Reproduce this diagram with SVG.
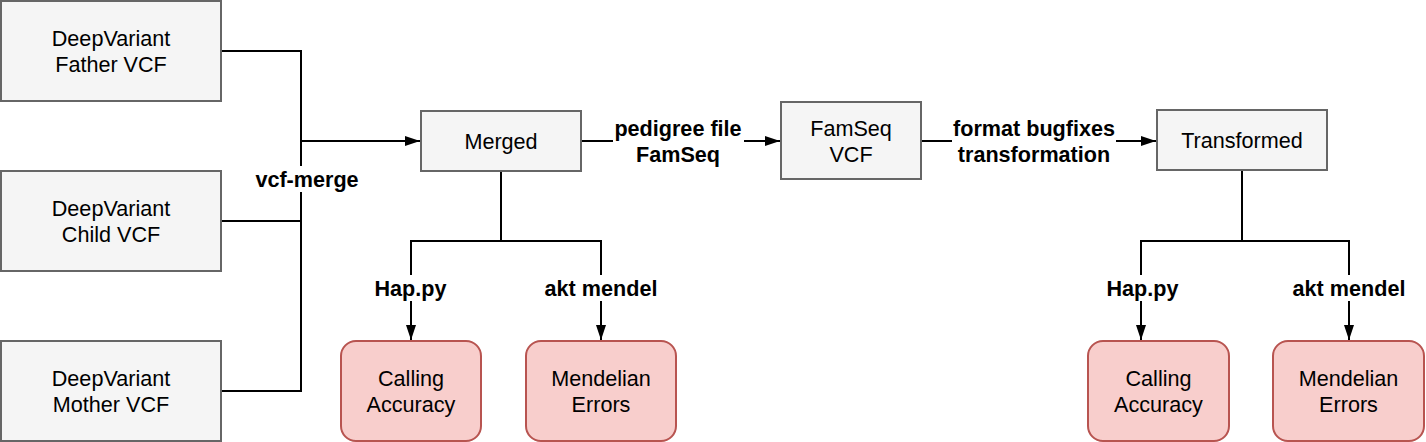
<svg xmlns="http://www.w3.org/2000/svg" width="1426" height="442" viewBox="0 0 1426 442">
<style>
.box{fill:#f5f5f5;stroke:#666666;stroke-width:2}
.res{fill:#f8cecc;stroke:#b85450;stroke-width:2}
.t{font-family:"Liberation Sans",Arial,sans-serif;font-size:21.6px;fill:#000;text-anchor:middle}
.lb{font-family:"Liberation Sans",Arial,sans-serif;font-size:21.6px;font-weight:bold;fill:#000;text-anchor:middle}
.e{fill:none;stroke:#000;stroke-width:2}
.bg{fill:#fff}
</style>
<defs>
<marker id="arr" markerUnits="userSpaceOnUse" markerWidth="16" markerHeight="12" refX="15" refY="6" orient="auto">
<path d="M0,1 L15,6 L0,11 z" fill="#000"/>
</marker>
</defs>
<g id="connectors">
<path class="e" d="M221 51 H301 V391 H221"/>
<path class="e" d="M221 221 H301"/>
<path class="e" d="M301 141 H420" marker-end="url(#arr)"/>
<path class="e" d="M581 141 H780" marker-end="url(#arr)"/>
<path class="e" d="M921 141 H1156" marker-end="url(#arr)"/>
<path class="e" d="M501 171 V241 H411 V340" marker-end="url(#arr)"/>
<path class="e" d="M501 241 H601 V340" marker-end="url(#arr)"/>
<path class="e" d="M1242 170 V241 H1141 V340" marker-end="url(#arr)"/>
<path class="e" d="M1242 241 H1349 V340" marker-end="url(#arr)"/>
<rect class="bg" x="254" y="166" width="106" height="26"/>
<text class="lb" x="307" y="186.5">vcf-merge</text>
<rect class="bg" x="613" y="116" width="131" height="52"/>
<text class="lb" x="678" y="135.5">pedigree file</text>
<text class="lb" x="678" y="161.5">FamSeq</text>
<rect class="bg" x="952" y="116" width="164" height="52"/>
<text class="lb" x="1034" y="135.5">format bugfixes</text>
<text class="lb" x="1034" y="161.5">transformation</text>
<rect class="bg" x="374" y="275" width="73" height="26"/>
<text class="lb" x="410.5" y="295.5">Hap.py</text>
<rect class="bg" x="543" y="275" width="116" height="26"/>
<text class="lb" x="601" y="295.5">akt mendel</text>
<rect class="bg" x="1106" y="275" width="73" height="26"/>
<text class="lb" x="1142.5" y="295.5">Hap.py</text>
<rect class="bg" x="1291" y="275" width="116" height="26"/>
<text class="lb" x="1349" y="295.5">akt mendel</text>
</g>
<g id="father">
<rect class="box" x="1" y="1" width="220" height="100"/>
<text class="t" x="111" y="45.5">DeepVariant</text>
<text class="t" x="111" y="71.5">Father VCF</text>
</g>
<g id="child">
<rect class="box" x="1" y="171" width="220" height="100"/>
<text class="t" x="111" y="215.5">DeepVariant</text>
<text class="t" x="111" y="241.5">Child VCF</text>
</g>
<g id="mother">
<rect class="box" x="1" y="341" width="220" height="100"/>
<text class="t" x="111" y="385.5">DeepVariant</text>
<text class="t" x="111" y="411.5">Mother VCF</text>
</g>
<g id="merged">
<rect class="box" x="421" y="111" width="160" height="60"/>
<text class="t" x="501" y="148.5">Merged</text>
</g>
<g id="famseq">
<rect class="box" x="781" y="102" width="140" height="77"/>
<text class="t" x="851" y="135.5">FamSeq</text>
<text class="t" x="851" y="161.5">VCF</text>
</g>
<g id="transformed">
<rect class="box" x="1157" y="110" width="170" height="60"/>
<text class="t" x="1242" y="147.5">Transformed</text>
</g>
<g id="calling1">
<rect class="res" x="341" y="341" width="140" height="100" rx="15" ry="15"/>
<text class="t" x="411" y="385.5">Calling</text>
<text class="t" x="411" y="411.5">Accuracy</text>
</g>
<g id="mendel1">
<rect class="res" x="526" y="341" width="150" height="100" rx="15" ry="15"/>
<text class="t" x="601" y="385.5">Mendelian</text>
<text class="t" x="601" y="411.5">Errors</text>
</g>
<g id="calling2">
<rect class="res" x="1088" y="341" width="141" height="100" rx="15" ry="15"/>
<text class="t" x="1158.5" y="385.5">Calling</text>
<text class="t" x="1158.5" y="411.5">Accuracy</text>
</g>
<g id="mendel2">
<rect class="res" x="1273" y="341" width="151" height="100" rx="15" ry="15"/>
<text class="t" x="1348.5" y="385.5">Mendelian</text>
<text class="t" x="1348.5" y="411.5">Errors</text>
</g>
</svg>
